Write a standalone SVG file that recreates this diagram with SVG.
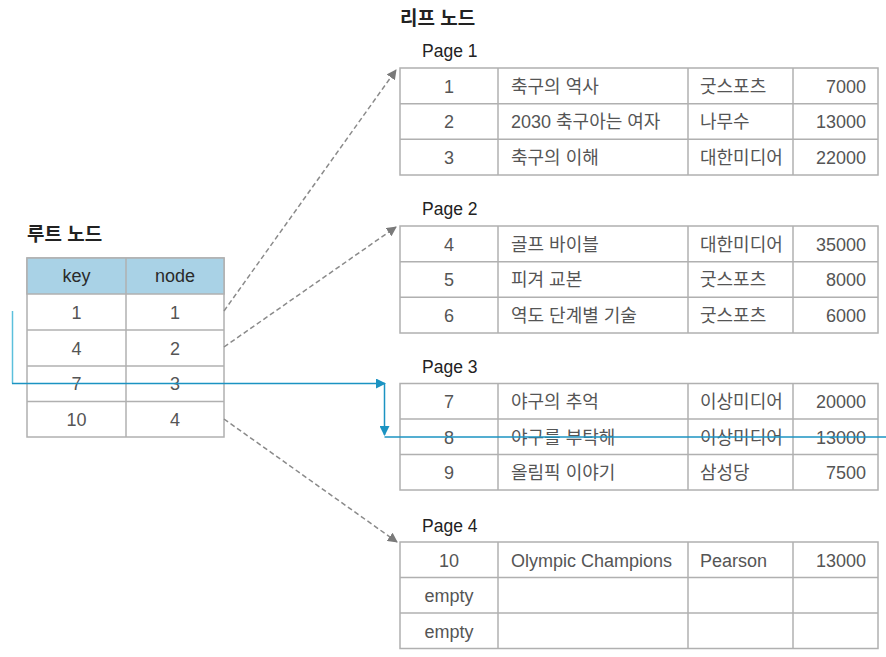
<svg xmlns="http://www.w3.org/2000/svg" width="886" height="657" viewBox="0 0 886 657">
<defs>
<style>
text{font-family:"Liberation Sans","Noto Sans CJK KR",sans-serif;}
.title{font-size:19px;font-weight:bold;fill:#222;}
.page{font-size:17.5px;fill:#222;}
.hd{font-size:18px;fill:#2a2a2a;text-anchor:middle;}
.c{font-size:18px;fill:#555;text-anchor:middle;}
.l{font-size:18px;fill:#555;}
.r{font-size:18px;fill:#555;text-anchor:end;}
.tbl{fill:#fff;stroke:#b0b0b0;stroke-width:1.5;}
.ln{stroke:#b0b0b0;stroke-width:1.5;}
.dash{stroke:#8a8a8a;stroke-width:1.5;stroke-dasharray:5 3;fill:none;}
.blue{stroke:#1b93c2;stroke-width:1.5;fill:none;}
</style>
<marker id="ga" viewBox="0 0 10 10" refX="9" refY="5" markerWidth="10" markerHeight="10" markerUnits="userSpaceOnUse" orient="auto">
<path d="M0,0 L10,5 L0,10 Z" fill="#7a7a7a"/>
</marker>
<marker id="ba" viewBox="0 0 10 10" refX="9" refY="5" markerWidth="10" markerHeight="10" markerUnits="userSpaceOnUse" orient="auto">
<path d="M0,0 L10,5 L0,10 Z" fill="#1b93c2"/>
</marker>
</defs>
<rect width="886" height="657" fill="#fff"/>

<g id="root">
<text class="title" x="27" y="241">루트 노드</text>
<rect x="27" y="258" width="197" height="179" class="tbl"/>
<rect x="27" y="258" width="197" height="36" fill="#a9d2e6" stroke="#b0b0b0" stroke-width="1.5"/>
<line class="ln" x1="126" y1="258" x2="126" y2="437"/>
<line class="ln" x1="27" y1="330" x2="224" y2="330"/>
<line class="ln" x1="27" y1="366" x2="224" y2="366"/>
<line class="ln" x1="27" y1="401.5" x2="224" y2="401.5"/>
<text class="hd" x="76.5" y="282">key</text>
<text class="hd" x="175" y="282">node</text>
<text class="c" x="76.5" y="318.5">1</text><text class="c" x="175" y="318.5">1</text>
<text class="c" x="76.5" y="354.5">4</text><text class="c" x="175" y="354.5">2</text>
<text class="c" x="76.5" y="390">7</text><text class="c" x="175" y="390">3</text>
<text class="c" x="76.5" y="425.5">10</text><text class="c" x="175" y="425.5">4</text>
</g>

<text class="title" x="400" y="25">리프 노드</text>

<g id="page1">
<text class="page" x="422" y="57">Page 1</text>
<rect x="400" y="68" width="478" height="107" class="tbl"/>
<line class="ln" x1="498" y1="68" x2="498" y2="175"/>
<line class="ln" x1="688" y1="68" x2="688" y2="175"/>
<line class="ln" x1="793" y1="68" x2="793" y2="175"/>
<line class="ln" x1="400" y1="103.7" x2="878" y2="103.7"/>
<line class="ln" x1="400" y1="139.3" x2="878" y2="139.3"/>
<text class="c" x="449" y="92.5">1</text><text class="l" x="511" y="92.5">축구의 역사</text><text class="l" x="700" y="92.5">굿스포츠</text><text class="r" x="866" y="92.5">7000</text>
<text class="c" x="449" y="128">2</text><text class="l" x="511" y="128">2030 축구아는 여자</text><text class="l" x="700" y="128">나무수</text><text class="r" x="866" y="128">13000</text>
<text class="c" x="449" y="163.5">3</text><text class="l" x="511" y="163.5">축구의 이해</text><text class="l" x="700" y="163.5">대한미디어</text><text class="r" x="866" y="163.5">22000</text>
</g>

<g id="page2">
<text class="page" x="422" y="215">Page 2</text>
<rect x="400" y="226" width="478" height="107" class="tbl"/>
<line class="ln" x1="498" y1="226" x2="498" y2="333"/>
<line class="ln" x1="688" y1="226" x2="688" y2="333"/>
<line class="ln" x1="793" y1="226" x2="793" y2="333"/>
<line class="ln" x1="400" y1="261.7" x2="878" y2="261.7"/>
<line class="ln" x1="400" y1="297.3" x2="878" y2="297.3"/>
<text class="c" x="449" y="250.5">4</text><text class="l" x="511" y="250.5">골프 바이블</text><text class="l" x="700" y="250.5">대한미디어</text><text class="r" x="866" y="250.5">35000</text>
<text class="c" x="449" y="286">5</text><text class="l" x="511" y="286">피겨 교본</text><text class="l" x="700" y="286">굿스포츠</text><text class="r" x="866" y="286">8000</text>
<text class="c" x="449" y="321.5">6</text><text class="l" x="511" y="321.5">역도 단계별 기술</text><text class="l" x="700" y="321.5">굿스포츠</text><text class="r" x="866" y="321.5">6000</text>
</g>

<g id="page3">
<text class="page" x="422" y="373">Page 3</text>
<rect x="400" y="383.5" width="478" height="106.5" class="tbl"/>
<line class="ln" x1="498" y1="383.5" x2="498" y2="490"/>
<line class="ln" x1="688" y1="383.5" x2="688" y2="490"/>
<line class="ln" x1="793" y1="383.5" x2="793" y2="490"/>
<line class="ln" x1="400" y1="419" x2="878" y2="419"/>
<line class="ln" x1="400" y1="454.5" x2="878" y2="454.5"/>
<text class="c" x="449" y="408">7</text><text class="l" x="511" y="408">야구의 추억</text><text class="l" x="700" y="408">이상미디어</text><text class="r" x="866" y="408">20000</text>
<text class="c" x="449" y="443.5">8</text><text class="l" x="511" y="443.5">야구를 부탁해</text><text class="l" x="700" y="443.5">이상미디어</text><text class="r" x="866" y="443.5">13000</text>
<text class="c" x="449" y="479">9</text><text class="l" x="511" y="479">올림픽 이야기</text><text class="l" x="700" y="479">삼성당</text><text class="r" x="866" y="479">7500</text>
</g>

<g id="page4">
<text class="page" x="422" y="532">Page 4</text>
<rect x="400" y="542" width="478" height="106.5" class="tbl"/>
<line class="ln" x1="498" y1="542" x2="498" y2="648.5"/>
<line class="ln" x1="688" y1="542" x2="688" y2="648.5"/>
<line class="ln" x1="793" y1="542" x2="793" y2="648.5"/>
<line class="ln" x1="400" y1="577.5" x2="878" y2="577.5"/>
<line class="ln" x1="400" y1="613" x2="878" y2="613"/>
<text class="c" x="449" y="566.5">10</text><text class="l" x="511" y="566.5">Olympic Champions</text><text class="l" x="700" y="566.5">Pearson</text><text class="r" x="866" y="566.5">13000</text>
<text class="c" x="449" y="602">empty</text>
<text class="c" x="449" y="637.5">empty</text>
</g>

<g id="connectors">
<line class="dash" x1="224" y1="311" x2="396" y2="70" marker-end="url(#ga)"/>
<line class="dash" x1="224" y1="347" x2="396" y2="227" marker-end="url(#ga)"/>
<line class="dash" x1="224" y1="419" x2="397" y2="542" marker-end="url(#ga)"/>
<line x1="12.5" y1="311" x2="12.5" y2="383.5" stroke="#5cc0dc" stroke-width="1.5"/>
<polyline class="blue" points="12,383.5 385,383.5" marker-end="url(#ba)"/>
<polyline class="blue" points="384.5,383.5 384.5,435" marker-end="url(#ba)"/>
<line class="blue" x1="384.5" y1="437" x2="886" y2="437"/>
</g>
</svg>
